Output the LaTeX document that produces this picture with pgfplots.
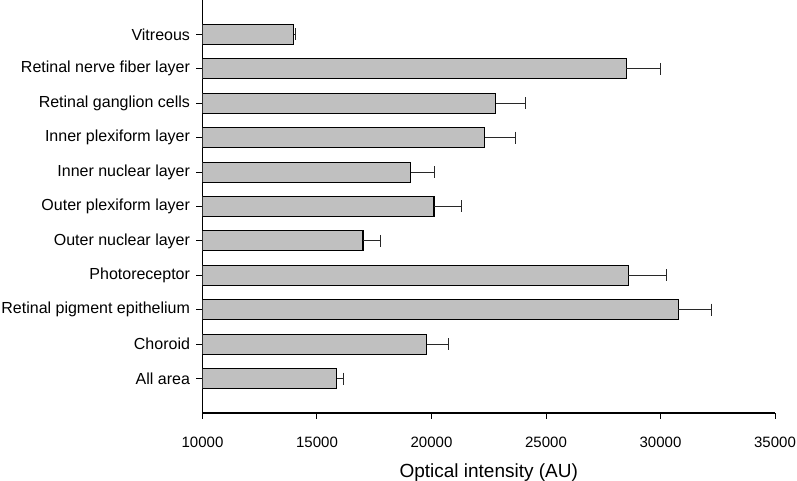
\documentclass[border=0pt]{standalone}
\usepackage{pgfplots}
\pgfplotsset{compat=1.18}
\usepackage{fontspec}
\setmainfont{Liberation Sans}

\definecolor{barfill}{RGB}{192,192,192}
\definecolor{errgray}{RGB}{40,40,40}

\begin{document}
\begin{tikzpicture}
\begin{axis}[
    name=ax,
    scale only axis,
    width=572.5pt, height=413pt,
    xbar, bar width=20pt,
    xmin=10000, xmax=35000,
    ymin=0, ymax=12,
    axis x line=bottom, axis y line=left,
    axis line style={-, line width=1.2pt, black},
    xtick={10000,15000,20000,25000,30000,35000},
    scaled x ticks=false,
    /pgf/number format/1000 sep={},
    /pgf/number format/assume math mode=true,
    ytick={1,...,11},
    yticklabels={All area, Choroid, Retinal pigment epithelium, Photoreceptor,
        Outer nuclear layer, Outer plexiform layer, Inner nuclear layer,
        Inner plexiform layer, Retinal ganglion cells, Retinal nerve fiber layer, Vitreous},
    tick align=outside,
    major tick length=6pt,
    tick style={line width=1pt, black},
    xticklabel style={font=\fontsize{15}{18}\selectfont, yshift=-14pt},
    yticklabel style={font=\fontsize{16}{19}\selectfont, xshift=-3pt},
    xlabel={Optical intensity (AU)},
    xlabel style={font=\fontsize{19}{22}\selectfont, yshift=-9.5pt},
]
\addplot[fill=barfill, draw=black, line width=1.1pt,
    error bars/.cd, x dir=plus, x explicit,
    error bar style={line width=1pt, errgray},
    error mark options={mark size=6pt, line width=1pt, errgray, rotate=90}]
    coordinates {
    (15870,1) +- (290,0)
    (19790,2) +- (960,0)
    (30770,3) +- (1460,0)
    (28600,4) +- (1660,0)
    (17010,5) +- (770,0)
    (20110,6) +- (1210,0)
    (19090,7) +- (1060,0)
    (22330,8) +- (1330,0)
    (22810,9) +- (1280,0)
    (28510,10) +- (1470,0)
    (13980,11) +- (90,0)
    };
\end{axis}
\pgfresetboundingbox
\path (ax.south west) ++(-202.5pt,-68pt) rectangle ++(797pt,481pt);
\end{tikzpicture}
\end{document}
